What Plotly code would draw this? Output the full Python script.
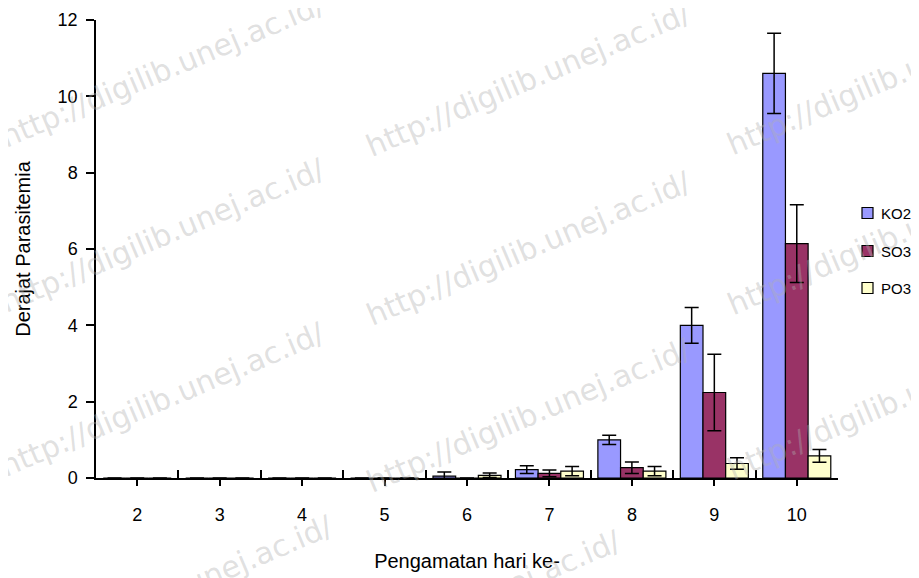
import plotly.graph_objects as go

days = ["2", "3", "4", "5", "6", "7", "8", "9", "10"]
ko2 = [0, 0, 0, 0, 0.05, 0.22, 1.0, 4.0, 10.6]
ko2_err = [0, 0, 0, 0, 0.11, 0.10, 0.12, 0.47, 1.05]
so3 = [0, 0, 0, 0, 0, 0.12, 0.27, 2.24, 6.14]
so3_err = [0, 0, 0, 0, 0, 0.09, 0.15, 1.0, 1.02]
po3 = [0, 0, 0, 0, 0.07, 0.18, 0.18, 0.38, 0.58]
po3_err = [0, 0, 0, 0, 0.06, 0.12, 0.12, 0.15, 0.17]
y_ticks = [0, 2, 4, 6, 8, 10, 12]

series = [
    ("KO2", ko2, ko2_err, "#9999FF"),
    ("SO3", so3, so3_err, "#993366"),
    ("PO3", po3, po3_err, "#FFFFCC"),
]

FONT = "Liberation Sans, Arial"

fig = go.Figure()
for name, vals, errs, col in series:
    fig.add_trace(go.Bar(
        x=days, y=vals, name=name, showlegend=False,
        marker=dict(color=col, line=dict(color="black", width=1.2)),
        error_y=dict(type="data", array=errs, visible=True,
                     color="black", thickness=1.5, width=7),
    ))

# boundary ticks (pointing up) via an overlaid linear axis
fig.add_trace(go.Scatter(x=[-0.5, 8.5], y=[0, 0], xaxis="x2", mode="lines",
                         line=dict(width=0), showlegend=False, hoverinfo="skip"))

# the page body adds an 8px offset, so the figure is laid out 8px up/left
W, H = 919, 578
L, T = 88, 12
PLOT_RIGHT, PLOT_BOTTOM = 830, 470
R, B = W - PLOT_RIGHT, H - PLOT_BOTTOM
pw, ph = PLOT_RIGHT - L, PLOT_BOTTOM - T

# positions given in screen pixels (screen = figure + 8)
def px(sx):
    return (sx - 8 - L) / pw

def py(sy):
    return (PLOT_BOTTOM - (sy - 8)) / ph

wm = "http://digilib.unej.ac.id/"
wm_centres = [(162, 70), (162, 235), (162, 400), (170, 592),
              (528, 80), (528, 248), (528, 415), (458, 607),
              (890, 78), (890, 237), (890, 402)]
annotations = []
for cx, cy in wm_centres:
    annotations.append(dict(
        x=px(cx), y=py(cy), xref="paper", yref="paper", text=wm,
        xanchor="center", yanchor="middle",
        showarrow=False, textangle=-23,
        font=dict(family="DejaVu Sans", size=30, color="rgba(175,175,175,0.4)"),
    ))

# manual legend (plotly's own legend gets clipped at the right edge)
shapes = []
legend_y = [213, 251, 288]
for (name, _, _, col), ly in zip(series, legend_y):
    shapes.append(dict(
        type="rect", xref="paper", yref="paper",
        x0=px(862), x1=px(873), y0=py(ly + 5.5), y1=py(ly - 5.5),
        fillcolor=col, line=dict(color="black", width=1.2),
    ))
    annotations.append(dict(
        x=px(879), y=py(ly), xref="paper", yref="paper", text=name,
        xanchor="left", yanchor="middle", showarrow=False,
        font=dict(family=FONT, size=15, color="black"),
    ))

fig.update_layout(
    width=W, height=H,
    margin=dict(l=L, r=R, t=T, b=B, autoexpand=False),
    paper_bgcolor="white", plot_bgcolor="white",
    barmode="group", bargap=0.175, bargroupgap=0,
    font=dict(family=FONT, size=18, color="black"),
    showlegend=False,
    xaxis=dict(
        type="category", showline=True, linecolor="black", linewidth=1.5,
        ticks="outside", ticklen=6, tickcolor="black", tickwidth=1.5,
        ticklabelstandoff=14,
        title=dict(text="Pengamatan hari ke-", font=dict(size=20), standoff=30),
        showgrid=False, zeroline=False, tickfont=dict(size=18),
    ),
    xaxis2=dict(
        overlaying="x", anchor="y", side="bottom", range=[-0.5, 8.5],
        tickvals=[i - 0.5 for i in range(10)], ticks="inside", ticklen=8,
        tickcolor="black", tickwidth=1.5, showticklabels=False,
        showgrid=False, zeroline=False, showline=False,
    ),
    yaxis=dict(
        range=[0, 12], tickvals=y_ticks, showline=True, linecolor="black",
        linewidth=1.5, ticks="outside", ticklen=8, tickcolor="black", tickwidth=1.5,
        ticklabelstandoff=5,
        showgrid=False, zeroline=False,
        title=dict(text="Derajat Parasitemia", font=dict(size=20), standoff=22),
    ),
    shapes=shapes,
    annotations=annotations,
)

fig.write_html("out.html")
